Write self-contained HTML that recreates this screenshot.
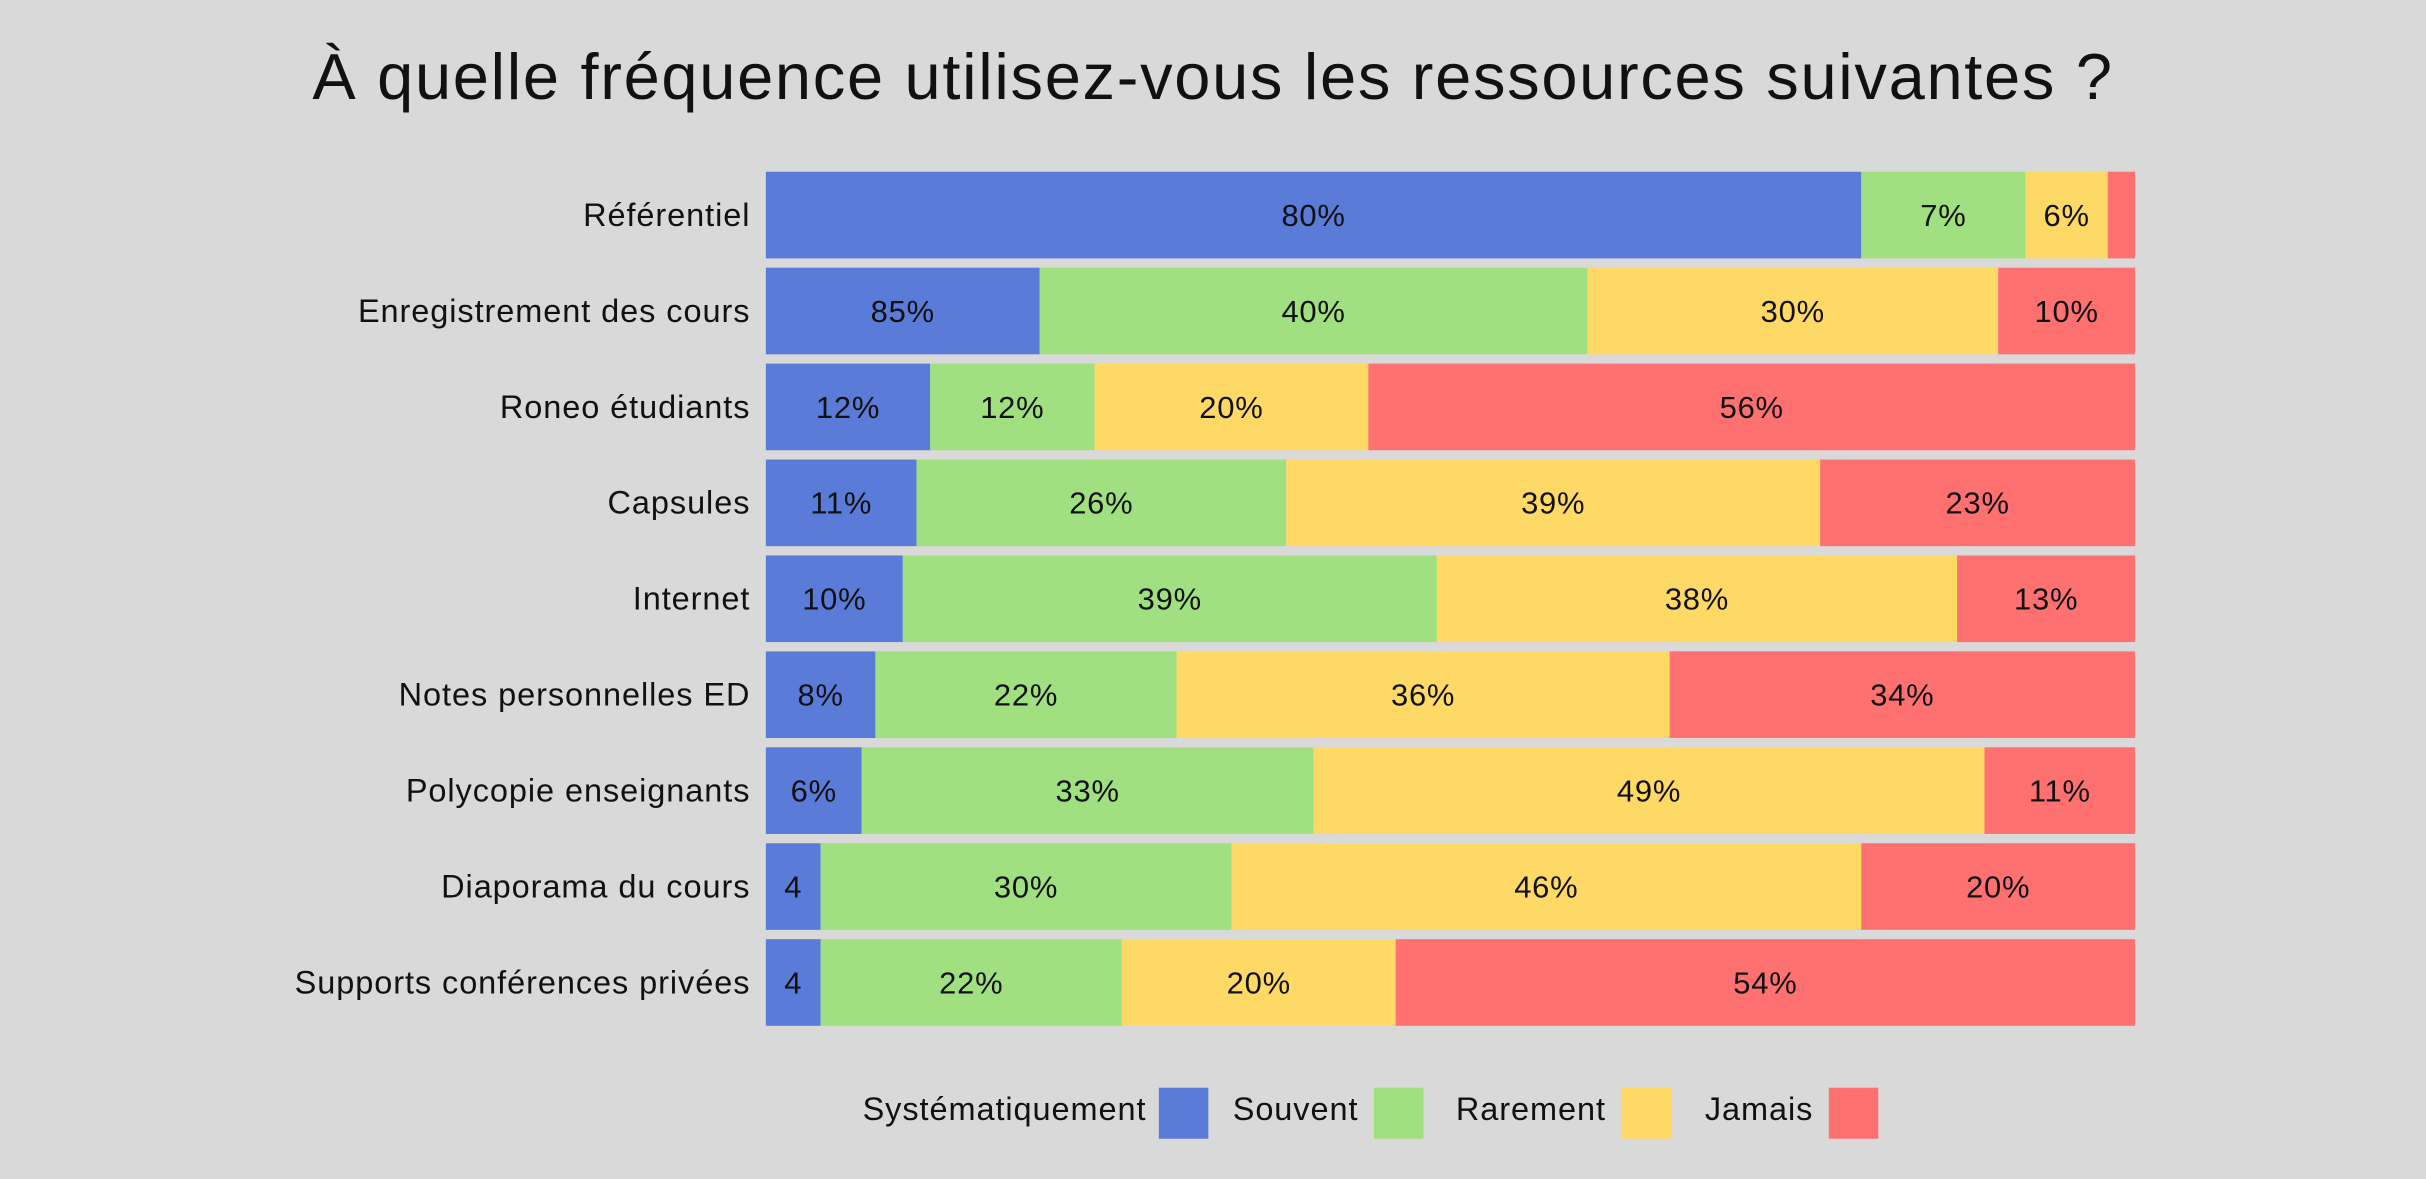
<!DOCTYPE html>
<html><head><meta charset="utf-8">
<style>
html,body{margin:0;padding:0;background:#d9d9d9;}
svg{display:block;font-family:"Liberation Sans",sans-serif;}
</style></head>
<body>
<svg id="chart" width="2426" height="1179" viewBox="0 0 1568 762" xmlns="http://www.w3.org/2000/svg">
<rect x="0" y="0" width="1568" height="762" fill="#d9d9d9"/>
<text x="784" y="64" text-anchor="middle" font-size="42" letter-spacing="1.1" fill="#111">À quelle fréquence utilisez-vous les ressources suivantes ?</text>
<g id="bars"></g>
<g id="legend"></g>
</svg>
<script>
const categories = ["Référentiel","Enregistrement des cours","Roneo étudiants","Capsules","Internet","Notes personnelles ED","Polycopie enseignants","Diaporama du cours","Supports conférences privées"];
const seriesNames = ["Systématiquement","Souvent","Rarement","Jamais"];
const systematiquement = [80,20,12,11,10,8,7,4,4];
const souvent = [12,40,12,27,39,22,33,30,22];
const rarement = [6,30,20,39,38,36,49,46,20];
const jamais = [2,10,56,23,13,34,11,20,54];
const labelsSys = ["80%","85%","12%","11%","10%","8%","6%","4","4"];
const labelsSouvent = ["7%","40%","12%","26%","39%","22%","33%","30%","22%"];
const labelsRarement = ["6%","30%","20%","39%","38%","36%","49%","46%","20%"];
const labelsJamais = ["","10%","56%","23%","13%","34%","11%","20%","54%"];

const colors = ["#5b7bd9","#a0e080","#ffd966","#ff7070"];
const series = [systematiquement,souvent,rarement,jamais];
const labels = [labelsSys,labelsSouvent,labelsRarement,labelsJamais];
const NS = "http://www.w3.org/2000/svg";
const x0 = 495, x1 = 1380, y0 = 111, rowStep = 62, barH = 56;
function xScale(frac){ return x0 + frac*(x1-x0); }
function yRow(i){ return y0 + i*rowStep; }
const bars = document.getElementById('bars');
categories.forEach((cat,i)=>{
  const total = series.reduce((s,a)=>s+a[i],0);
  const t = document.createElementNS(NS,'text');
  
  
  t.setAttribute('x', 485); t.setAttribute('y', yRow(i)+barH/2+7);
  t.setAttribute('text-anchor','end'); t.setAttribute('font-size','21'); t.setAttribute('letter-spacing','0.6'); t.setAttribute('fill','#111');
  t.textContent = cat; bars.appendChild(t);
  let acc = 0;
  series.forEach((arr,s)=>{
    const xa = xScale(acc/total), xb = xScale((acc+arr[i])/total);
    acc += arr[i];
    const r = document.createElementNS(NS,'rect');
    
    
    r.setAttribute('x', xa); r.setAttribute('y', yRow(i));
    r.setAttribute('width', Math.max(0,xb-xa)); r.setAttribute('height', barH);
    r.setAttribute('fill', colors[s]); bars.appendChild(r);
    if (labels[s][i]) {
      const l = document.createElementNS(NS,'text');
      
      
      l.setAttribute('x', (xa+xb)/2); l.setAttribute('y', yRow(i)+barH/2+7);
      l.setAttribute('text-anchor','middle'); l.setAttribute('font-size','20'); l.setAttribute('letter-spacing','0.5'); l.setAttribute('fill','#111');
      l.textContent = labels[s][i]; bars.appendChild(l);
    }
  });
});
const legend = document.getElementById('legend');
const legTextX = [741,878,1038,1172];
const legSwX = [749,888,1048,1182];
seriesNames.forEach((n,s)=>{
  const t = document.createElementNS(NS,'text');
  
  
  t.setAttribute('x', legTextX[s]); t.setAttribute('y', 724);
  t.setAttribute('text-anchor','end'); t.setAttribute('font-size','21'); t.setAttribute('letter-spacing','0.6'); t.setAttribute('fill','#111');
  t.textContent = n; legend.appendChild(t);
  const r = document.createElementNS(NS,'rect');
  
  
  r.setAttribute('x', legSwX[s]); r.setAttribute('y', 703);
  r.setAttribute('width', 32); r.setAttribute('height', 33);
  r.setAttribute('fill', colors[s]); legend.appendChild(r);
});
</script>
</body></html>
